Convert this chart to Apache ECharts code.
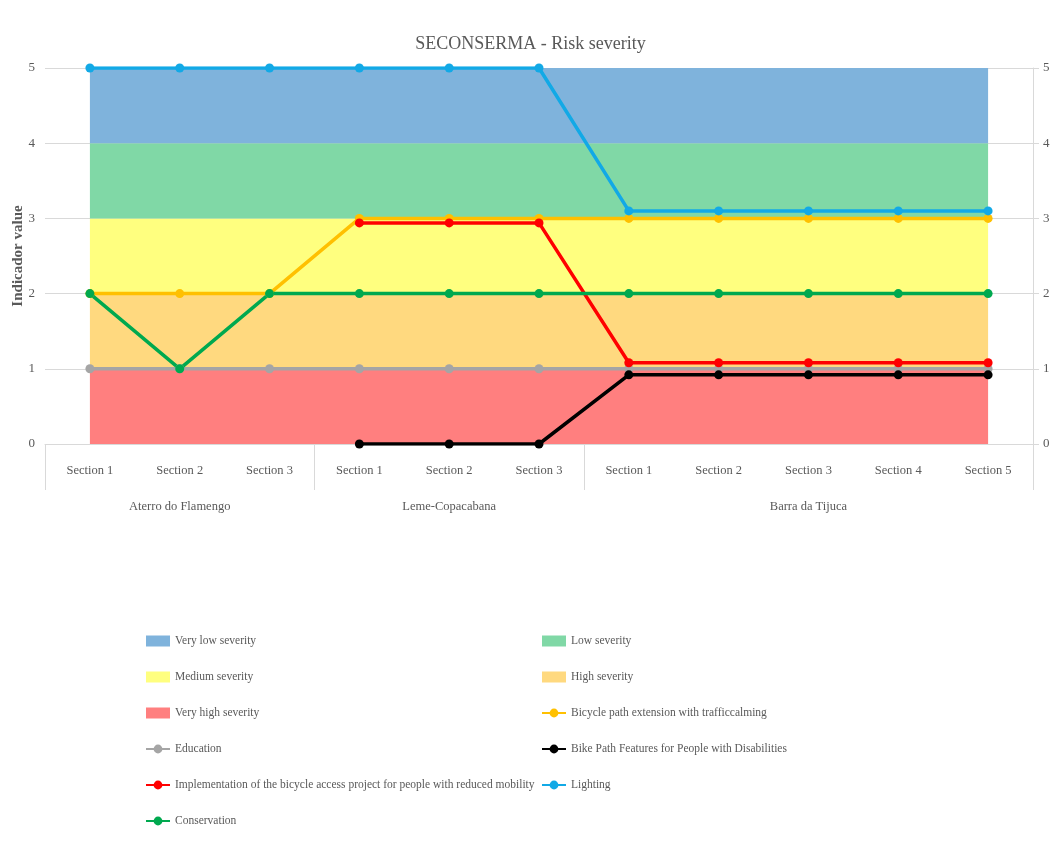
<!DOCTYPE html>
<html>
<head>
<meta charset="utf-8">
<title>SECONSERMA - Risk severity</title>
<script src="https://cdn.jsdelivr.net/npm/echarts@6/dist/echarts.min.js"></script>
<style>
  html, body { margin: 0; padding: 0; background: #ffffff; }
  #chart { width: 1061px; height: 843px; }
</style>
</head>
<body>
<div id="chart"></div>
<script>
// Road sections, grouped by bike path
const sections = ['Section 1', 'Section 2', 'Section 3',
                  'Section 1', 'Section 2', 'Section 3',
                  'Section 1', 'Section 2', 'Section 3', 'Section 4', 'Section 5'];
const groupNames = ['Aterro do Flamengo', 'Leme-Copacabana', 'Barra da Tijuca'];
const groupSizes = [3, 3, 5];

// Severity bands (each one unit tall, stacked 0 -> 5)
const bandVeryHigh = [1, 1, 1, 1, 1, 1, 1, 1, 1, 1, 1];
const bandHigh     = [1, 1, 1, 1, 1, 1, 1, 1, 1, 1, 1];
const bandMedium   = [1, 1, 1, 1, 1, 1, 1, 1, 1, 1, 1];
const bandLow      = [1, 1, 1, 1, 1, 1, 1, 1, 1, 1, 1];
const bandVeryLow  = [1, 1, 1, 1, 1, 1, 1, 1, 1, 1, 1];

// Indicator values per section
const bicyclePathExtension = [2, 2, 2, 3, 3, 3, 3, 3, 3, 3, 3];
const education            = [1, 1, 1, 1, 1, 1, 1, 1, 1, 1, 1];
const accessibilityFeatures = [null, null, null, 0, 0, 0, 0.92, 0.92, 0.92, 0.92, 0.92];
const reducedMobilityProject = [null, null, null, 2.94, 2.94, 2.94, 1.08, 1.08, 1.08, 1.08, 1.08];
const lighting             = [5, 5, 5, 5, 5, 5, 3.1, 3.1, 3.1, 3.1, 3.1];
const conservation         = [2, 1, 2, 2, 2, 2, 2, 2, 2, 2, 2];

const yTicks = { min: 0, max: 5, interval: 1 };

// Group label per category, plus index helpers for group boundaries / centers
const groupPerCategory = [];
const groupStarts = [];
const groupCenters = [];
let acc = 0;
groupSizes.forEach(function (size, g) {
  groupStarts.push(acc);
  groupCenters.push(acc + Math.floor(size / 2));
  for (let i = 0; i < size; i++) groupPerCategory.push(groupNames[g]);
  acc += size;
});

const FONT = '"Liberation Serif", "DejaVu Serif", serif';
const TEXT = '#595959';
const GRID = '#d9d9d9';

function band(name, data, color) {
  return {
    name: name, type: 'line', stack: 'severity', data: data,
    symbol: 'none', silent: true,
    lineStyle: { width: 0, color: color },
    itemStyle: { color: color },
    areaStyle: { color: color, opacity: 1 },
    z: 1
  };
}
function indicator(name, data, color) {
  return {
    name: name, type: 'line', data: data,
    symbol: 'circle', symbolSize: 9,
    lineStyle: { width: 3.5, color: color },
    itemStyle: { color: color },
    z: 5
  };
}

const chart = echarts.init(document.getElementById('chart'));
const legendText = { fontFamily: FONT, fontSize: 11.5, color: TEXT };
chart.setOption({
  backgroundColor: '#ffffff',
  animation: false,
  title: {
    text: 'SECONSERMA - Risk severity',
    left: 'center', top: 30,
    textStyle: { fontFamily: FONT, fontSize: 18, fontWeight: 'normal', color: TEXT }
  },
  legend: [
    {
      orient: 'vertical', left: 140, top: 630, itemGap: 24,
      itemWidth: 24, itemHeight: 11,
      textStyle: legendText,
      data: [
        { name: 'Very low severity', icon: 'rect' },
        { name: 'Medium severity', icon: 'rect' },
        { name: 'Very high severity', icon: 'rect' },
        'Education',
        'Implementation of the bicycle access project for people with reduced mobility',
        'Conservation'
      ]
    },
    {
      orient: 'vertical', left: 536, top: 630, itemGap: 24,
      itemWidth: 24, itemHeight: 11,
      textStyle: legendText,
      data: [
        { name: 'Low severity', icon: 'rect' },
        { name: 'High severity', icon: 'rect' },
        'Bicycle path extension with trafficcalming',
        'Bike Path Features for People with Disabilities',
        'Lighting'
      ]
    }
  ],
  grid: { left: 45, right: 28, top: 68, bottom: 399, outerBoundsMode: 'none', containLabel: false },
  xAxis: [
    {
      type: 'category', data: sections, boundaryGap: true,
      axisLine: { show: true, lineStyle: { color: GRID, width: 1 } },
      axisTick: { show: false },
      axisLabel: { interval: 0, margin: 20, fontFamily: FONT, fontSize: 12.5, color: TEXT }
    },
    {
      type: 'category', data: groupPerCategory, boundaryGap: true, position: 'bottom',
      axisLine: { show: false },
      axisTick: {
        show: true, length: 46, lineStyle: { color: GRID, width: 1 },
        interval: function (index) { return groupStarts.indexOf(index) !== -1; }
      },
      axisLabel: {
        margin: 56, fontFamily: FONT, fontSize: 12.5, color: TEXT,
        interval: function (index) { return groupCenters.indexOf(index) !== -1; }
      }
    }
  ],
  yAxis: [
    {
      type: 'value', min: yTicks.min, max: yTicks.max, interval: yTicks.interval,
      name: 'Indicador value', nameLocation: 'middle', nameGap: 19, nameRotate: 90,
      nameMoveOverlap: false,
      nameTextStyle: { fontFamily: FONT, fontSize: 15, fontWeight: 'bold', color: TEXT },
      axisLine: { show: false }, axisTick: { show: false },
      splitLine: { lineStyle: { color: GRID, width: 1 } },
      axisLabel: { margin: 10, fontFamily: FONT, fontSize: 13, color: TEXT }
    },
    {
      type: 'value', position: 'right', min: yTicks.min, max: yTicks.max, interval: yTicks.interval,
      axisLine: { show: true, lineStyle: { color: GRID, width: 1 } },
      axisTick: { show: true, length: 6, lineStyle: { color: GRID } },
      splitLine: { show: false },
      axisLabel: { margin: 10, fontFamily: FONT, fontSize: 13, color: TEXT }
    }
  ],
  series: [
    band('Very high severity', bandVeryHigh, '#ff7f7f'),
    band('High severity', bandHigh, '#ffd97f'),
    band('Medium severity', bandMedium, '#ffff7f'),
    band('Low severity', bandLow, '#80d8a6'),
    band('Very low severity', bandVeryLow, '#7fb3dc'),
    indicator('Bicycle path extension with trafficcalming', bicyclePathExtension, '#ffc000'),
    indicator('Education', education, '#a5a5a5'),
    indicator('Bike Path Features for People with Disabilities', accessibilityFeatures, '#000000'),
    indicator('Implementation of the bicycle access project for people with reduced mobility', reducedMobilityProject, '#ff0000'),
    indicator('Lighting', lighting, '#12a9e6'),
    indicator('Conservation', conservation, '#00a94f')
  ]
});
</script>
</body>
</html>
